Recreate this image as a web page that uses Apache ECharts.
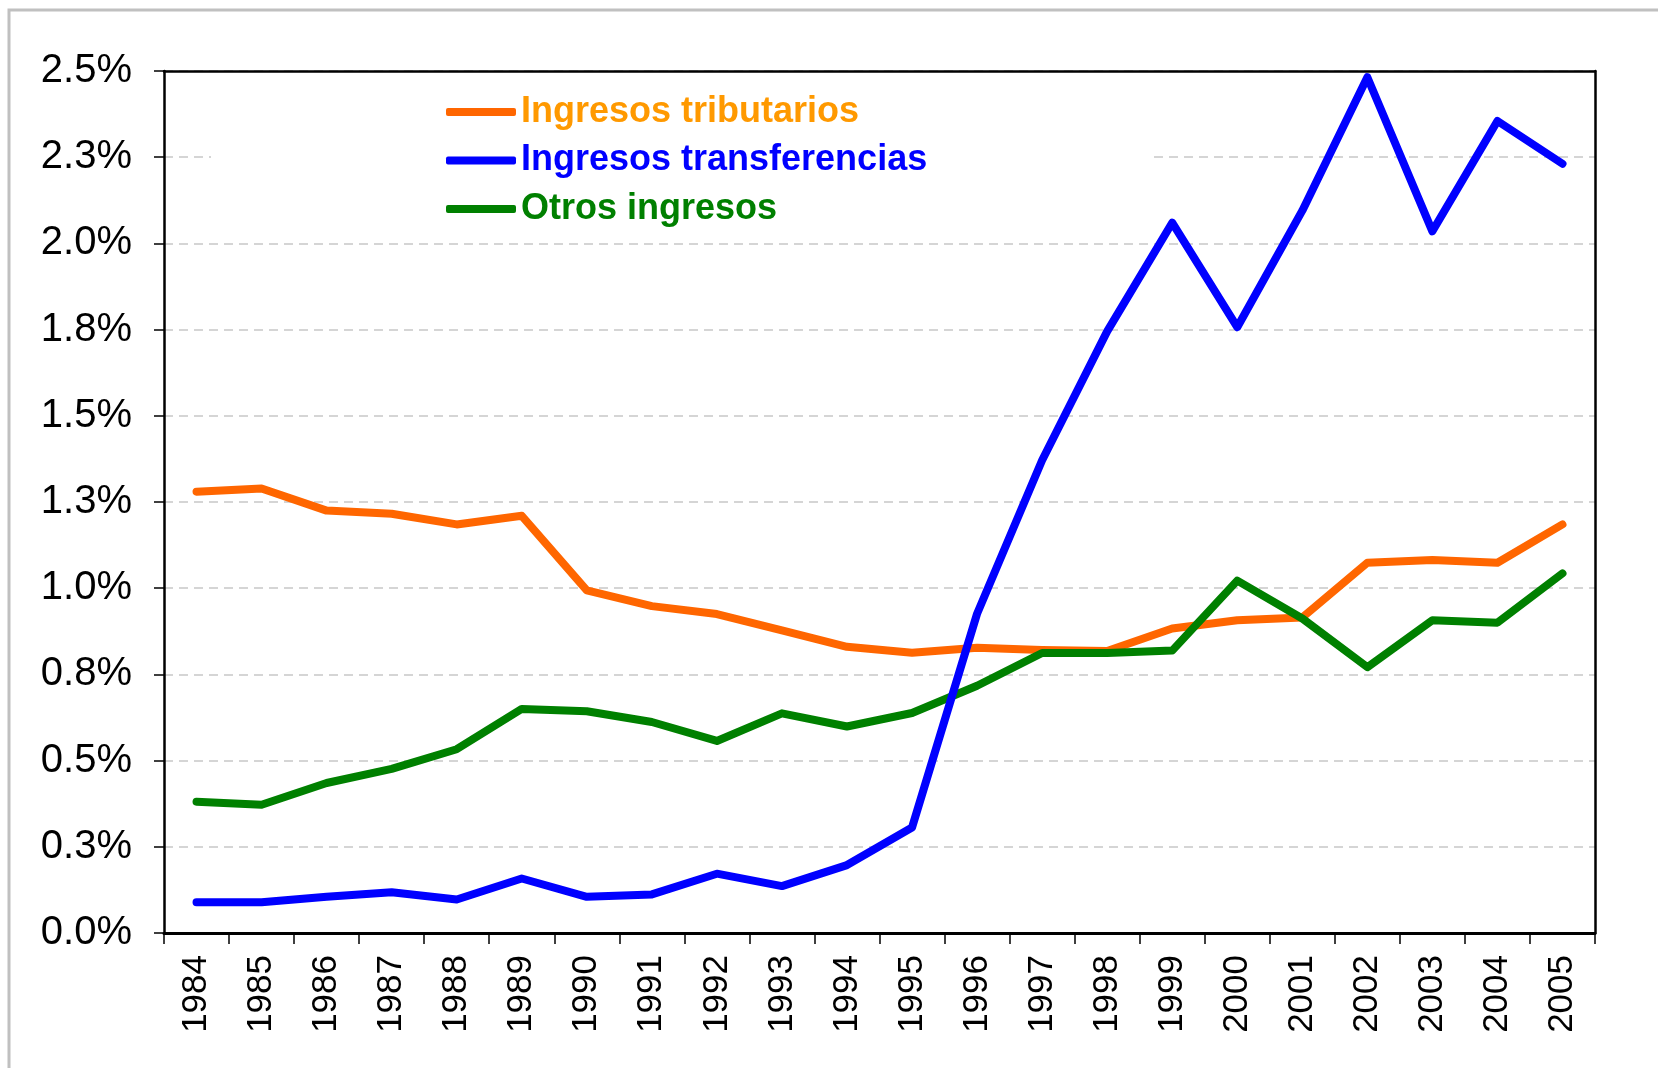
<!DOCTYPE html>
<html>
<head>
<meta charset="utf-8">
<script src="https://cdn.jsdelivr.net/npm/echarts@6/dist/echarts.min.js"></script>
<style>
  html, body { margin: 0; padding: 0; background: #fff; }
  #chart { width: 1658px; height: 1068px; }
</style>
</head>
<body>
<div id="chart"></div>
<script>
// años (eje X)
const years = ['1984', '1985', '1986', '1987', '1988', '1989', '1990', '1991', '1992', '1993', '1994',
    '1995', '1996', '1997', '1998', '1999', '2000', '2001', '2002', '2003', '2004', '2005']
// etiquetas del eje Y (cada 0.25)
const yTickLabels = ['0.0%', '0.3%', '0.5%', '0.8%', '1.0%', '1.3%', '1.5%', '1.8%', '2.0%', '2.3%', '2.5%']
// series, en %
const tributarios = [1.28, 1.289, 1.225, 1.216, 1.185, 1.21, 0.994, 0.948, 0.925, 0.878, 0.83,
    0.813, 0.827, 0.821, 0.818, 0.883, 0.907, 0.915, 1.074, 1.082, 1.074, 1.185]
const transferencias = [0.089, 0.089, 0.105, 0.118, 0.097, 0.158, 0.105, 0.112, 0.172, 0.136, 0.197,
    0.306, 0.926, 1.371, 1.745, 2.06, 1.757, 2.095, 2.482, 2.035, 2.355, 2.231]
const otros = [0.381, 0.372, 0.435, 0.476, 0.533, 0.65, 0.643, 0.612, 0.557, 0.637, 0.599,
    0.638, 0.717, 0.812, 0.812, 0.819, 1.022, 0.912, 0.771, 0.907, 0.9, 1.043]

const chart = echarts.init(document.getElementById('chart'))

// estilo común de las líneas
function lineSeries(name, data, color, z) {
    return {
        type: 'line',
        name: name,
        data: data,
        symbol: 'none',
        z: z,
        lineStyle: { color: color, width: 8, cap: 'round', join: 'round' },
        itemStyle: { color: color }
    }
}

// eje solo para el borde del área (arriba / derecha)
const borderAxis = {
    show: true,
    axisLine: { show: true, onZero: false, lineStyle: { color: '#000', width: 2.5 } },
    axisTick: { show: false },
    axisLabel: { show: false },
    splitLine: { show: false }
}

const option = {
    backgroundColor: '#fff',
    animation: false,
    // marco gris exterior
    graphic: [{
        type: 'rect',
        shape: { x: 9, y: 10, width: 1700, height: 1100 },
        style: { fill: 'none', stroke: '#c0c0c0', lineWidth: 3 },
        silent: true
    }],
    grid: { left: 164, right: 63, top: 71, bottom: 135 },
    legend: {
        orient: 'vertical',
        left: 211, top: 82,
        padding: [10, 222, 10, 235],
        backgroundColor: '#fff',
        itemGap: 8.5,
        itemWidth: 70, itemHeight: 8,
        icon: 'roundRect',
        textStyle: { fontFamily: 'Liberation Sans, Arial', fontWeight: 'bold', fontSize: 36, lineHeight: 40 },
        data: [
            { name: 'Ingresos tributarios', textStyle: { color: '#ff9900' } },
            { name: 'Ingresos transferencias', textStyle: { color: '#0000ff' } },
            { name: 'Otros ingresos', textStyle: { color: '#008000' } }
        ]
    },
    xAxis: [{
        type: 'category',
        data: years,
        boundaryGap: true,
        axisLine: { onZero: false, lineStyle: { color: '#000', width: 3 } },
        axisTick: { show: true, length: 11, lineStyle: { color: '#000', width: 1.5 } },
        axisLabel: {
            rotate: 90, margin: 22, interval: 0,
            color: '#000', fontSize: 35, fontFamily: 'Liberation Sans, Arial'
        }
    }, Object.assign({ type: 'category', data: years, position: 'top' }, borderAxis)],
    yAxis: [{
        type: 'value',
        min: 0, max: 2.5, interval: 0.25,
        axisLine: { show: true, onZero: false, lineStyle: { color: '#000', width: 2.5 } },
        axisTick: { show: true, length: 10, lineStyle: { color: '#000', width: 1.5 } },
        axisLabel: {
            margin: 32, color: '#000', fontSize: 40, fontFamily: 'Liberation Sans, Arial',
            formatter: function (v) { return yTickLabels[Math.round(v / 0.25)] }
        },
        splitLine: { show: true, lineStyle: { color: '#c8c8c8', width: 1.5, type: [9, 6] } }
    }, Object.assign({ type: 'value', min: 0, max: 2.5, interval: 0.25, position: 'right' }, borderAxis)],
    series: [
        lineSeries('Ingresos tributarios', tributarios, '#ff6600', 2),
        lineSeries('Ingresos transferencias', transferencias, '#0000ff', 4),
        lineSeries('Otros ingresos', otros, '#008000', 3)
    ]
}

chart.setOption(option)
</script>
</body>
</html>
